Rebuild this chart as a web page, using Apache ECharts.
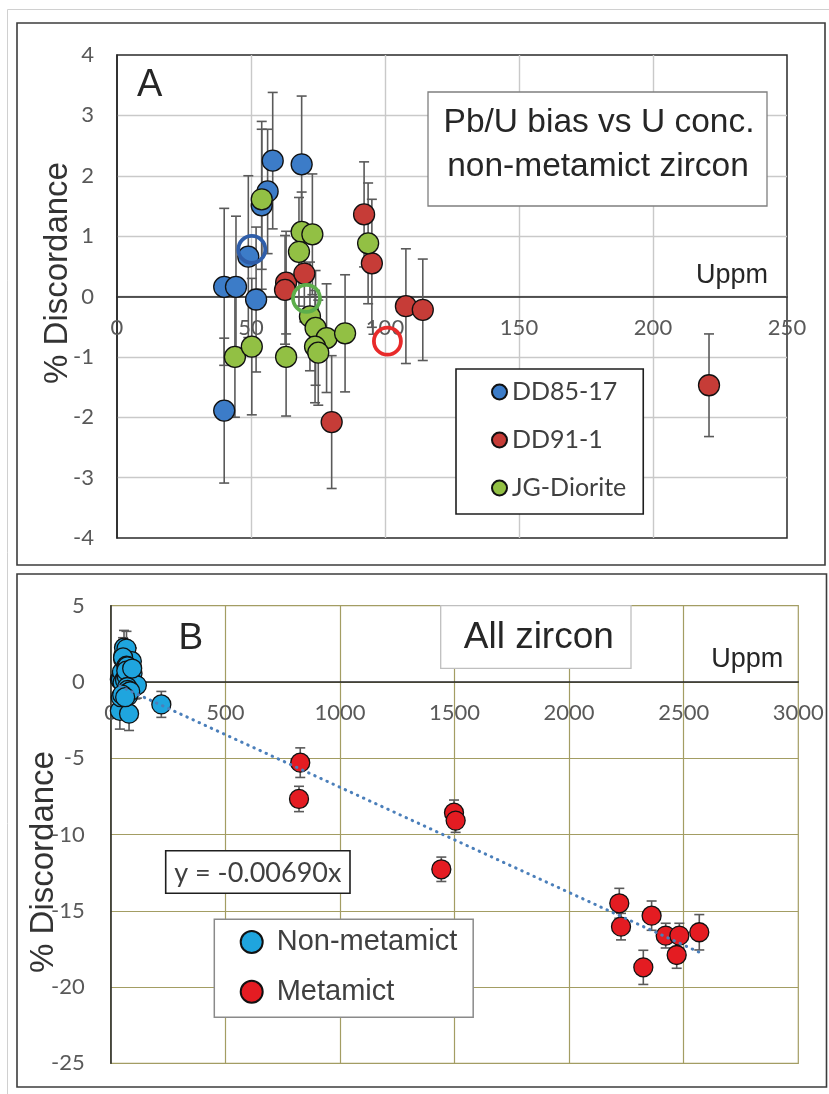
<!DOCTYPE html>
<html>
<head>
<meta charset="utf-8">
<script src="https://cdn.jsdelivr.net/npm/echarts@6/dist/echarts.min.js"></script>
<style>
  html, body { margin: 0; padding: 0; background: #ffffff; }
  #chart { width: 829px; height: 1094px; }
</style>
</head>
<body>
<div id="chart"></div>
<script>
// ---- Panel A: non-metamict zircon, U (ppm) vs % discordance, with errors ----
const dd85U    = [40, 44.4, 49, 51.9, 54, 56.2, 58.1, 68.9, 40];
const dd85Disc = [0.16, 0.16, 0.66, -0.05, 1.51, 1.74, 2.25, 2.19, -1.89];
const dd85Err  = [1.30, 1.17, 1.34, 1.20, 1.39, 1.03, 1.13, 1.13, 1.20];

const dd91U    = [63.1, 62.7, 69.9, 92.2, 95.1, 107.8, 114.1, 220.9, 80.1];
const dd91Disc = [0.23, 0.11, 0.38, 1.36, 0.55, -0.16, -0.22, -1.47, -2.08];
const dd91Err  = [0.85, 0.90, 0.80, 0.87, 1.06, 0.95, 0.84, 0.85, 1.10];

const jgU    = [54, 68.9, 72.9, 67.9, 72, 74.1, 78.2, 73.9, 75.1, 85.1, 44, 50.3, 63.1, 93.7];
const jgDisc = [1.61, 1.07, 1.03, 0.74, -0.33, -0.52, -0.69, -0.83, -0.93, -0.61, -1.0, -0.83, -1.0, 0.88];
const jgErr  = [1.16, 0.66, 1.00, 0.90, 0.90, 0.95, 0.90, 0.93, 0.87, 0.97, 1.00, 1.13, 0.98, 1.00];

// Sample means (open rings): DD85-17, DD91-1, JG-Diorite
const meanU    = [50.3, 100.9, 70.7];
const meanDisc = [0.78, -0.74, -0.03];

// ---- Panel B: metamict zircon ----
const metaU    = [827, 821.6, 1497.8, 1505, 1442.5, 2219, 2226.5, 2360, 2323.8, 2421.5, 2481, 2469.4, 2568];
const metaDisc = [-5.29, -7.67, -8.57, -9.09, -12.28, -14.51, -16.04, -15.32, -18.71, -16.63, -16.63, -17.9, -16.41];
const metaErr  = [0.97, 0.83, 0.83, 0.77, 0.80, 0.98, 0.87, 0.96, 1.12, 0.81, 0.81, 0.87, 1.16];

// Fitted trend through the origin
const trendSlope = -0.00690;
const trendLabel = 'y = -0.00690x';

// Axis ticks
const xTicksA = { min: 0, max: 250, interval: 50 };
const yTicksA = { min: -4, max: 4, interval: 1 };
const xTicksB = { min: 0, max: 3000, interval: 500 };
const yTicksB = { min: -25, max: 5, interval: 5 };

// ---------------------------------------------------------------------------
const zip3 = (xs, ys, es) => xs.map((x, i) => es ? [x, ys[i], es[i]] : [x, ys[i]]);

const nonMetaU    = dd85U.concat(dd91U, jgU);
const nonMetaDisc = dd85Disc.concat(dd91Disc, jgDisc);
const nonMetaErr  = dd85Err.concat(dd91Err, jgErr);

const allU = nonMetaU.concat(metaU);
const trendX = [Math.min.apply(null, allU), Math.max.apply(null, allU)];

const TICK_FONT = 'Lato, "Open Sans", sans-serif';
const ARIAL = '"Liberation Sans", Arial, sans-serif';

// plot boxes
const gridA = { left: 117, top: 55, width: 670, height: 483 };
const gridB = { left: 110.7, top: 605.7, width: 687.6, height: 457.6 };

// the U axis is drawn where % discordance = 0, together with its labels
const zeroOffset = (g, yt) => -g.height * (0 - yt.min) / (yt.max - yt.min);

function errorBars(params, api) {
  const x = api.value(0), y = api.value(1), e = api.value(2);
  const top = api.coord([x, y + e]);
  const bot = api.coord([x, y - e]);
  const w = 5;
  const st = { stroke: '#5a5a5a', lineWidth: 1.6 };
  return {
    type: 'group',
    children: [
      { type: 'line', shape: { x1: top[0], y1: top[1], x2: bot[0], y2: bot[1] }, style: st },
      { type: 'line', shape: { x1: top[0] - w, y1: top[1], x2: top[0] + w, y2: top[1] }, style: st },
      { type: 'line', shape: { x1: bot[0] - w, y1: bot[1], x2: bot[0] + w, y2: bot[1] }, style: st }
    ]
  };
}

function errSeries(name, gi, data) {
  return {
    name: name + ' error', type: 'custom', xAxisIndex: gi, yAxisIndex: gi,
    renderItem: errorBars, data: data, z: 2, silent: true,
    encode: { x: 0, y: 1 }
  };
}

function dotSeries(name, gi, data, color, size) {
  return {
    name: name, type: 'scatter', xAxisIndex: gi, yAxisIndex: gi,
    data: data, symbol: 'circle', symbolSize: size, z: 3,
    itemStyle: { color: color, borderColor: '#111', borderWidth: 1.3, opacity: 1 }
  };
}

function ringSeries(data, color) {
  return {
    type: 'scatter', xAxisIndex: 0, yAxisIndex: 0, data: data,
    symbol: 'circle', symbolSize: 27, z: 4, silent: true,
    itemStyle: { color: 'rgba(0,0,0,0)', borderColor: color, borderWidth: 3.8, opacity: 1 }
  };
}

const tickLabel = (margin) => ({
  fontFamily: TICK_FONT, fontSize: 22, color: '#595959', margin: margin,
  formatter: (v) => String(v)
});

const chart = echarts.init(document.getElementById('chart'), null, { renderer: 'canvas' });

const option = {
  backgroundColor: '#ffffff',
  animation: false,
  grid: [
    Object.assign({ show: true, borderColor: '#2a2a2a', borderWidth: 1.5, backgroundColor: 'transparent' }, gridA),
    Object.assign({ show: true, borderColor: '#a39d63', borderWidth: 1.2, backgroundColor: 'transparent' }, gridB)
  ],
  xAxis: [
    { type: 'value', gridIndex: 0, min: xTicksA.min, max: xTicksA.max, interval: xTicksA.interval,
      position: 'bottom', offset: zeroOffset(gridA, yTicksA),
      axisLine: { show: true, onZero: false, lineStyle: { color: '#262626', width: 1.5 } },
      axisTick: { show: false },
      axisLabel: tickLabel(20),
      splitLine: { show: true, showMinLine: false, showMaxLine: false, lineStyle: { color: '#c9c9c9', width: 1.4 } } },
    { type: 'value', gridIndex: 1, min: xTicksB.min, max: xTicksB.max, interval: xTicksB.interval,
      position: 'bottom', offset: zeroOffset(gridB, yTicksB),
      axisLine: { show: true, onZero: false, lineStyle: { color: '#262626', width: 1.5 } },
      axisTick: { show: false },
      axisLabel: tickLabel(20),
      splitLine: { show: true, showMinLine: false, showMaxLine: false, lineStyle: { color: '#a39d63', width: 1.2 } } }
  ],
  yAxis: [
    { type: 'value', gridIndex: 0, min: yTicksA.min, max: yTicksA.max, interval: yTicksA.interval,
      axisLine: { show: true, onZero: false, lineStyle: { color: '#262626', width: 1.5 } },
      axisTick: { show: false },
      axisLabel: tickLabel(23),
      splitLine: { show: true, showMinLine: false, showMaxLine: false, lineStyle: { color: '#c9c9c9', width: 1.4 } } },
    { type: 'value', gridIndex: 1, min: yTicksB.min, max: yTicksB.max, interval: yTicksB.interval,
      axisLine: { show: true, onZero: false, lineStyle: { color: '#262626', width: 1.5 } },
      axisTick: { show: false },
      axisLabel: tickLabel(26),
      splitLine: { show: true, showMinLine: false, showMaxLine: false, lineStyle: { color: '#a39d63', width: 1.2 } } }
  ],
  legend: [
    { data: ['DD85-17', 'DD91-1', 'JG-Diorite'], orient: 'vertical',
      left: 456, top: 369, selectedMode: false,
      backgroundColor: '#ffffff', borderColor: '#1e1e1e', borderWidth: 1.6,
      padding: [9, 17, 12, 35], itemGap: 20, itemWidth: 15, itemHeight: 15, icon: 'circle',
      textStyle: { fontFamily: TICK_FONT, fontSize: 25, color: '#404040', lineHeight: 28 } },
    { data: ['Non-metamict', 'Metamict'], orient: 'vertical',
      left: 214.3, top: 919.3, selectedMode: false,
      backgroundColor: '#ffffff', borderColor: '#8a8a8a', borderWidth: 1.5,
      padding: [7.7, 16, 10.6, 25.4], itemGap: 19.7, itemWidth: 22, itemHeight: 22, icon: 'circle',
      textStyle: { fontFamily: ARIAL, fontSize: 29, color: '#404040', lineHeight: 30, padding: [0, 0, 0, 9] } }
  ],
  series: [
    // Panel A
    errSeries('DD85-17', 0, zip3(dd85U, dd85Disc, dd85Err)),
    errSeries('DD91-1', 0, zip3(dd91U, dd91Disc, dd91Err)),
    errSeries('JG-Diorite', 0, zip3(jgU, jgDisc, jgErr)),
    dotSeries('DD85-17', 0, zip3(dd85U, dd85Disc), '#3c7cc8', 21),
    dotSeries('DD91-1', 0, zip3(dd91U, dd91Disc), '#c63c37', 21),
    dotSeries('JG-Diorite', 0, zip3(jgU, jgDisc), '#92c044', 21),
    ringSeries([[meanU[0], meanDisc[0]]], '#2f5ea9'),
    ringSeries([[meanU[1], meanDisc[1]]], '#e82a2a'),
    ringSeries([[meanU[2], meanDisc[2]]], '#5dae4b'),
    // Panel B
    errSeries('Non-metamict', 1, zip3(nonMetaU, nonMetaDisc, nonMetaErr)),
    errSeries('Metamict', 1, zip3(metaU, metaDisc, metaErr)),
    dotSeries('Non-metamict', 1, zip3(nonMetaU, nonMetaDisc), '#1fa5de', 19),
    dotSeries('Metamict', 1, zip3(metaU, metaDisc), '#e41c22', 19),
    { name: 'trend', type: 'line', xAxisIndex: 1, yAxisIndex: 1, silent: true, z: 6,
      data: trendX.map(x => [x, trendSlope * x]), symbol: 'none',
      lineStyle: { color: '#4b7fba', width: 3, type: [0.5, 6.2], cap: 'round' } }
  ],
  graphic: [
    // image edge and panel frames
    { type: 'rect', shape: { x: 7.5, y: 9.5, width: 840, height: 1100 }, z: 0,
      style: { fill: null, stroke: '#d0d0d0', lineWidth: 1 }, silent: true },
    { type: 'rect', shape: { x: 17, y: 23, width: 808, height: 542 }, z: 0,
      style: { fill: null, stroke: '#3c3c3c', lineWidth: 1.6 }, silent: true },
    { type: 'rect', shape: { x: 17, y: 574, width: 809.5, height: 513 }, z: 0,
      style: { fill: null, stroke: '#3c3c3c', lineWidth: 1.6 }, silent: true },

    // Panel A annotations
    { type: 'text', x: 149.7, y: 86, z: 50, silent: true,
      style: { text: 'A', font: '38px ' + ARIAL, fill: '#262626', textAlign: 'center', textVerticalAlign: 'middle' } },
    { type: 'rect', shape: { x: 428, y: 92, width: 339, height: 114 }, z: 50, silent: true,
      style: { fill: '#ffffff', stroke: '#7f7f7f', lineWidth: 1.3 } },
    { type: 'text', x: 599, y: 122.5, z: 51, silent: true,
      style: { text: 'Pb/U bias vs U conc.', font: '33.5px ' + ARIAL, fill: '#262626', textAlign: 'center', textVerticalAlign: 'middle' } },
    { type: 'text', x: 598, y: 166.8, z: 51, silent: true,
      style: { text: 'non-metamict zircon', font: '33.5px ' + ARIAL, fill: '#262626', textAlign: 'center', textVerticalAlign: 'middle' } },
    { type: 'text', x: 768, y: 276, z: 50, silent: true,
      style: { text: 'Uppm', font: '27px ' + ARIAL, fill: '#262626', textAlign: 'right', textVerticalAlign: 'middle' } },
    { type: 'text', x: 58, y: 273, z: 50, rotation: Math.PI / 2, silent: true,
      style: { text: '% Discordance', font: '33px ' + ARIAL, fill: '#333333', textAlign: 'center', textVerticalAlign: 'middle' } },

    // Panel B annotations
    { type: 'text', x: 190.8, y: 638.7, z: 50, silent: true,
      style: { text: 'B', font: '37px ' + ARIAL, fill: '#262626', textAlign: 'center', textVerticalAlign: 'middle' } },
    { type: 'rect', shape: { x: 440.7, y: 605.7, width: 190.3, height: 62.6 }, z: 50, silent: true,
      style: { fill: '#ffffff', stroke: '#bfbfbf', lineWidth: 1.3 } },
    { type: 'text', x: 538.8, y: 637.8, z: 51, silent: true,
      style: { text: 'All zircon', font: '37px ' + ARIAL, fill: '#262626', textAlign: 'center', textVerticalAlign: 'middle' } },
    { type: 'text', x: 783.3, y: 659.8, z: 50, silent: true,
      style: { text: 'Uppm', font: '27px ' + ARIAL, fill: '#262626', textAlign: 'right', textVerticalAlign: 'middle' } },
    { type: 'rect', shape: { x: 165.7, y: 850.7, width: 184.3, height: 42.6 }, z: 50, silent: true,
      style: { fill: '#ffffff', stroke: '#1e1e1e', lineWidth: 1.6 } },
    { type: 'text', x: 257.8, y: 873, z: 51, silent: true,
      style: { text: trendLabel, font: '27px ' + TICK_FONT, fill: '#404040', textAlign: 'center', textVerticalAlign: 'middle' } },
    { type: 'text', x: 44, y: 862, z: 50, rotation: Math.PI / 2, silent: true,
      style: { text: '% Discordance', font: '33px ' + ARIAL, fill: '#333333', textAlign: 'center', textVerticalAlign: 'middle' } }
  ]
};

chart.setOption(option);
</script>
</body>
</html>
